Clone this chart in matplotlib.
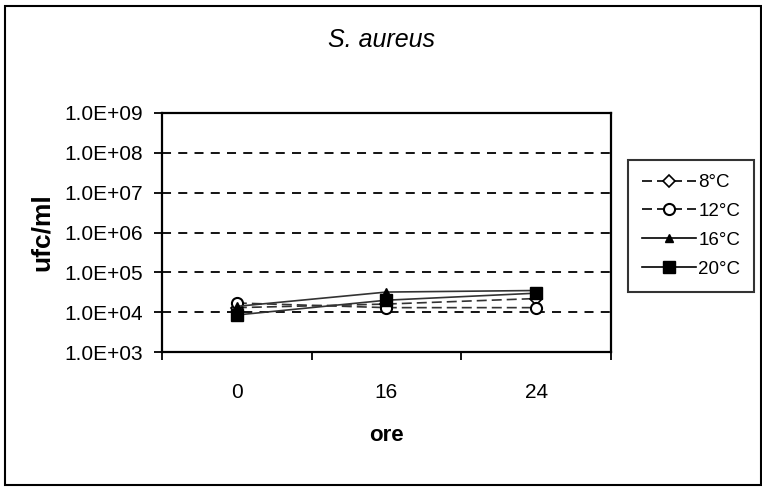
import matplotlib
matplotlib.use("Agg")
import matplotlib.pyplot as plt
from matplotlib.patches import Rectangle
from matplotlib.ticker import FixedLocator, NullLocator, FuncFormatter

plt.rcParams['font.family'] = ['Liberation Sans', 'DejaVu Sans']

# sampling times (hours) and counts (ufc/ml) per temperature
hours = ['0', '16', '24']
temps = ['8°C', '12°C', '16°C', '20°C']
cfu_8 = [1.3e4, 1.6e4, 2.2e4]
cfu_12 = [1.7e4, 1.3e4, 1.3e4]
cfu_16 = [1.4e4, 3.2e4, 3.5e4]
cfu_20 = [8.5e3, 2.0e4, 3.0e4]

fig = plt.figure(figsize=(7.62, 4.94), dpi=100)
ax = fig.add_axes([0.2126, 0.2874, 0.5892, 0.4839])

x = range(len(hours))
line_col = '#333333'
ax.plot(x, cfu_8, ls=(0, (6, 3)), color=line_col, lw=1.2, marker='D', ms=6,
        mfc='white', mec='black', mew=1.2, label=temps[0], zorder=3)
ax.plot(x, cfu_12, ls=(0, (6, 3)), color=line_col, lw=1.2, marker='o', ms=8,
        mfc='white', mec='black', mew=1.5, label=temps[1], zorder=3)
ax.plot(x, cfu_16, ls='-', color=line_col, lw=1.2, marker='^', ms=6,
        mfc='black', mec='black', label=temps[2], zorder=3)
ax.plot(x, cfu_20, ls='-', color=line_col, lw=1.2, marker='s', ms=8,
        mfc='black', mec='black', label=temps[3], zorder=3)

ax.set_yscale('log')
ax.set_ylim(1e3, 1e9)
ax.set_xlim(-0.5, 2.5)
ax.yaxis.set_major_locator(FixedLocator([10.0 ** k for k in range(3, 10)]))
ax.yaxis.set_minor_locator(NullLocator())
ax.yaxis.set_major_formatter(FuncFormatter(lambda v, p: '{:.1E}'.format(v)))
ax.grid(axis='y', which='major', ls=(0, (5, 4)), color='black', lw=1.3)

# category boundaries carry the tick marks, labels sit at the centres
ax.xaxis.set_major_locator(FixedLocator([-0.5, 0.5, 1.5, 2.5]))
ax.xaxis.set_major_formatter(FuncFormatter(lambda v, p: ''))
ax.set_xticks(list(x), hours, minor=True)
ax.tick_params(axis='x', which='major', direction='out', length=6, width=1.3)
ax.tick_params(axis='x', which='minor', length=0, pad=22, labelsize=15)
ax.tick_params(axis='y', direction='out', length=6, width=1.3, pad=8, labelsize=15)

for s in ax.spines.values():
    s.set_linewidth(1.6)

ax.set_ylabel('ufc/ml', fontsize=19, fontweight='bold')
ax.yaxis.set_label_coords(-0.24, 0.5)
ax.set_xlabel('ore', fontsize=16, fontweight='bold')
ax.xaxis.set_label_coords(0.5, -0.305)

fig.text(382 / 762, 1 - 40 / 494, 'S. aureus', fontsize=18, style='italic',
         ha='center', va='center')

leg = ax.legend(loc='upper left', bbox_to_anchor=(1.038, 0.803), borderaxespad=0,
                frameon=True, fancybox=False, edgecolor='black', fontsize=13.5,
                handlelength=2.9, handletextpad=0.1, labelspacing=0.62,
                borderpad=0.75)
leg.get_frame().set_linewidth(1.5)
for h in leg.legend_handles:
    h.set_color('black')

fig.patches.append(Rectangle((5 / 762, 1 - 485 / 494), 756 / 762, 479 / 494,
                             transform=fig.transFigure, fill=False,
                             edgecolor='black', lw=1.5))

fig.savefig('out.png', dpi=100)
